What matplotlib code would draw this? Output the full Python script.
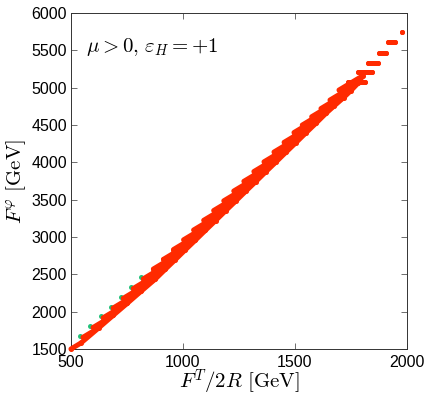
import numpy as np
import matplotlib
matplotlib.use("Agg")
import matplotlib.pyplot as plt

plt.rcParams['mathtext.fontset'] = 'cm'
plt.rcParams['font.family'] = ['Liberation Sans', 'DejaVu Sans']

# Каждая "ступенька" полосы: начало (x0, y0) и конец (x1, y1)
row_x0 = [500.0, 553.6, 598.7, 643.7, 688.4, 733.5, 778.1, 823.2, 867.8, 912.9,
          957.6, 1002.6, 1047.3, 1092.4, 1137.0, 1182.1, 1226.7, 1271.8, 1316.5, 1361.6,
          1406.2, 1451.3, 1495.5, 1532.5, 1574.5, 1616.0, 1656.2, 1696.4, 1736.5, 1781.2,
          1828.1, 1875.0, 1917.3, 1979.8]
row_y0 = [1500.0, 1656.7, 1787.9, 1917.8, 2049.0, 2178.9, 2310.1, 2440.0, 2571.2, 2701.1,
          2832.3, 2962.2, 3093.4, 3223.3, 3354.5, 3484.4, 3615.6, 3745.5, 3876.7, 4006.6,
          4137.8, 4267.7, 4398.9, 4499.4, 4610.5, 4720.3, 4834.1, 4968.0, 5081.8, 5209.0,
          5336.2, 5463.4, 5610.7, 5744.6]
row_x1 = [544.6, 625.0, 687.9, 750.9, 813.4, 876.3, 920.9, 966.0, 1010.6, 1055.7,
          1100.4, 1145.4, 1190.1, 1235.2, 1279.8, 1324.9, 1369.5, 1414.6, 1459.3, 1504.4,
          1549.0, 1594.1, 1638.3, 1675.3, 1717.3, 1749.9, 1781.2, 1803.5, 1812.4, 1843.7,
          1870.5, 1906.2, 1946.3, 1979.8]
row_y1 = [1580.3, 1785.2, 1948.6, 2110.6, 2273.9, 2436.0, 2567.2, 2697.1, 2828.3, 2958.2,
          3089.4, 3219.3, 3350.5, 3480.4, 3611.6, 3741.5, 3872.7, 4002.6, 4133.8, 4263.7,
          4394.9, 4524.8, 4656.0, 4756.5, 4867.6, 4961.3, 5059.1, 5160.8, 5081.8, 5209.0,
          5336.2, 5463.4, 5610.7, 5744.6]
n_band = 28  # ступеньки, нижние концы которых образуют нижний край полосы

# Зелёные точки, почти скрытые под красными
green_x = [542.0, 587.0, 632.0, 677.0, 722.0, 767.0, 812.0]
green_y = [1677.0, 1808.0, 1938.0, 2069.0, 2199.0, 2330.0, 2460.0]

x_ticks = [500, 1000, 1500, 2000]
y_ticks = [1500, 2000, 2500, 3000, 3500, 4000, 4500, 5000, 5500, 6000]

red = '#ff2a00'
green = '#22c27a'
lw = 3.6  # ~5 px

fig = plt.figure(figsize=(4.30, 3.96), dpi=100)
ax = fig.add_axes([0.165, 0.1187, 0.7815, 0.8485])

ax.plot(green_x, green_y, 'o', color=green, ms=lw, mew=0, zorder=2)

for x0, y0, x1, y1 in zip(row_x0, row_y0, row_x1, row_y1):
    ax.plot([x0, x1], [y0, y1], color=red, lw=lw, solid_capstyle='round',
            zorder=3, clip_on=False)
    ax.plot([x0, x1], [y0, y1], 'o', color=red, ms=lw, mew=0, zorder=3, clip_on=False)

# нижний край полосы
ax.plot(row_x1[:n_band], row_y1[:n_band], color=red, lw=lw,
        solid_joinstyle='round', solid_capstyle='round', zorder=3)

ax.set_xlim(500, 2000)
ax.set_ylim(1500, 6000)
ax.set_xticks(x_ticks)
ax.set_yticks(y_ticks)
ax.tick_params(direction='in', top=True, right=True, length=4, width=0.6,
               color='#555555', labelsize=11.5)
ax.tick_params(axis='x', pad=4)
ax.tick_params(axis='y', pad=3)
for s in ax.spines.values():
    s.set_linewidth(0.7)
    s.set_color('#333333')

ax.set_xlabel(r'$F^T/2R\ [\mathrm{GeV}]$', fontsize=15, labelpad=-1)
ax.set_ylabel(r'$F^\varphi\ [\mathrm{GeV}]$', fontsize=15, labelpad=2)
ax.text(0.045, 0.885, r'$\mu > 0,\, \varepsilon_H = +1$', transform=ax.transAxes,
        fontsize=15)

fig.savefig('out.png', dpi=100)
